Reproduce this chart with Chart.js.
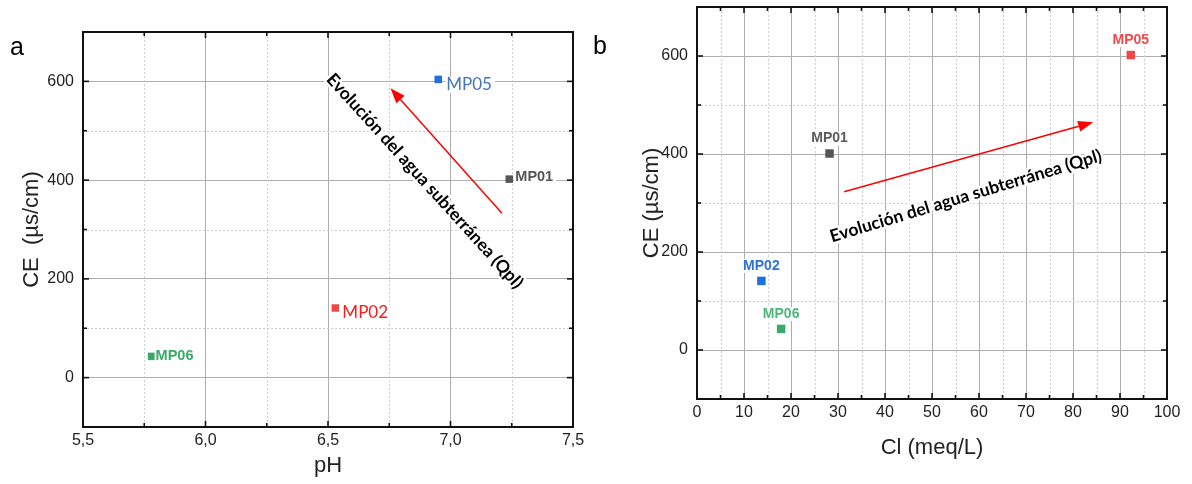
<!DOCTYPE html>
<html><head><meta charset="utf-8">
<script src="https://cdn.jsdelivr.net/npm/chart.js@4/dist/chart.umd.min.js"></script>
<style>
html,body{margin:0;padding:0;background:#fff;width:1192px;height:484px;overflow:hidden}
#ca{position:absolute;left:0;top:0}
#cb{position:absolute;left:580px;top:0}
</style></head><body>
<canvas id="ca" width="600" height="484"></canvas>
<canvas id="cb" width="612" height="484"></canvas>
<script>
// ---------- data ----------
const sampleNames = ['MP01', 'MP02', 'MP05', 'MP06'];
// Panel a: pH vs CE
const phValues  = [7.24, 6.53, 6.95, 5.78];
const ceValuesA = [402, 141, 604, 43];
// Panel b: Cl vs CE
const clValues  = [28.2, 13.7, 92.3, 17.9];
const ceValuesB = [401, 141, 602, 43];

const phTicks = [5.5, 6.0, 6.5, 7.0, 7.5];
const phTickLabels = ['5,5', '6,0', '6,5', '7,0', '7,5'];
const phMinorTicks = [5.75, 6.25, 6.75, 7.25];
const clTicks = [0, 10, 20, 30, 40, 50, 60, 70, 80, 90, 100];
const clTickLabels = ['0', '10', '20', '30', '40', '50', '60', '70', '80', '90', '100'];
const clMinorTicks = [5, 15, 25, 35, 45, 55, 65, 75, 85, 95];
const ceTicks = [0, 200, 400, 600];
const ceTickLabels = ['0', '200', '400', '600'];
const ceMinorTicks = [100, 300, 500];

const evolutionText = 'Evolución del agua subterránea (Qpl)';
// annotation anchors in data units
const arrowA = { from: [7.21, 333], to: [6.755, 586] };
const textA  = { at: [6.895, 398], angle: 47.8 };
const arrowB = { from: [31.3, 323], to: [84.3, 465] };
const textB  = { at: [57.2, 314], angle: -16.8 };

// ---------- styles ----------
const AX_FONT = 'Arial, "Liberation Sans", sans-serif';
const markerA = { MP01: '#555555', MP02: '#f04848', MP05: '#1f6fe0', MP06: '#3aaa6a' };
const labelA  = {
  MP01: { color: '#555555', font: 'bold 14.5px Arial, "Liberation Sans", sans-serif', dx: 6, dy: -2 },
  MP02: { color: '#ff1a1a', font: '17px Lato', dx: 7, dy: 5 },
  MP05: { color: '#4472c4', font: '17px Lato', dx: 8, dy: 5.5 },
  MP06: { color: '#3aaa6a', font: 'bold 14.5px Arial, "Liberation Sans", sans-serif', dx: 4, dy: 0 }
};
const markerB = { MP01: '#555555', MP02: '#1f6fe0', MP05: '#f04848', MP06: '#3aaa6a' };
const labelB  = {
  MP01: { color: '#5a5a5a' }, MP02: { color: '#2d72d9' },
  MP05: { color: '#f04a4a' }, MP06: { color: '#4cb87a' }
};

function framePlugin(xMinor, yMinor) {
  return {
    id: 'frameMinor',
    beforeDatasetsDraw(chart) {
      const { ctx, chartArea: a, scales: { x, y } } = chart;
      ctx.save();
      ctx.strokeStyle = '#cfcfcf'; ctx.lineWidth = 1; ctx.setLineDash([2, 2]);
      xMinor.forEach(v => { const p = Math.round(x.getPixelForValue(v)) + 0.5; ctx.beginPath(); ctx.moveTo(p, a.top); ctx.lineTo(p, a.bottom); ctx.stroke(); });
      yMinor.forEach(v => { const p = Math.round(y.getPixelForValue(v)) + 0.5; ctx.beginPath(); ctx.moveTo(a.left, p); ctx.lineTo(a.right, p); ctx.stroke(); });
      ctx.restore();
    },
    afterDraw(chart) {
      const { ctx, chartArea: a, scales: { x, y } } = chart;
      ctx.save();
      ctx.strokeStyle = '#111'; ctx.lineWidth = 1.6; ctx.setLineDash([]);
      const tick = (vals, len, horiz) => vals.forEach(v => {
        if (horiz) {
          const p = x.getPixelForValue(v);
          ctx.beginPath(); ctx.moveTo(p, a.bottom); ctx.lineTo(p, a.bottom - len); ctx.stroke();
          ctx.beginPath(); ctx.moveTo(p, a.top); ctx.lineTo(p, a.top + len); ctx.stroke();
        } else {
          const p = y.getPixelForValue(v);
          ctx.beginPath(); ctx.moveTo(a.left, p); ctx.lineTo(a.left + len, p); ctx.stroke();
          ctx.beginPath(); ctx.moveTo(a.right, p); ctx.lineTo(a.right - len, p); ctx.stroke();
        }
      });
      tick(x.ticks.map(t => t.value), 6, true);
      tick(xMinor, 4, true);
      tick(y.ticks.map(t => t.value), 6, false);
      tick(yMinor, 4, false);
      ctx.lineWidth = 2;
      ctx.strokeRect(a.left, a.top, a.right - a.left, a.bottom - a.top);
      ctx.restore();
    }
  };
}

function drawArrow(ctx, x1, y1, x2, y2) {
  const ang = Math.atan2(y2 - y1, x2 - x1);
  const hl = 15, hw = 11;
  const bx = x2 - hl * Math.cos(ang), by = y2 - hl * Math.sin(ang);
  ctx.save();
  ctx.strokeStyle = '#ff0000'; ctx.fillStyle = '#ff0000'; ctx.lineWidth = 1.5;
  ctx.beginPath(); ctx.moveTo(x1, y1); ctx.lineTo(bx, by); ctx.stroke();
  ctx.beginPath();
  ctx.moveTo(x2, y2);
  ctx.lineTo(bx + hw / 2 * Math.sin(ang), by - hw / 2 * Math.cos(ang));
  ctx.lineTo(bx - hw / 2 * Math.sin(ang), by + hw / 2 * Math.cos(ang));
  ctx.closePath(); ctx.fill();
  ctx.restore();
}

function annotPlugin(arrow, text, letter, letterPos, labelMode) {
  return {
    id: 'annot',
    afterDatasetsDraw(chart) {
      const { ctx, scales: { x, y } } = chart;
      // evolution text
      ctx.save();
      const cx = x.getPixelForValue(text.at[0]), cy = y.getPixelForValue(text.at[1]);
      ctx.translate(cx, cy); ctx.rotate(text.angle * Math.PI / 180);
      ctx.font = 'bold 15px Lato';
      const w = ctx.measureText(evolutionText).width;
      const size = 15 * 283 / w;
      ctx.font = 'bold ' + size.toFixed(2) + 'px Lato';
      ctx.textAlign = 'center'; ctx.textBaseline = 'middle';
      ctx.strokeStyle = '#fff'; ctx.lineWidth = 5; ctx.lineJoin = 'round';
      ctx.strokeText(evolutionText, 0, 0);
      ctx.fillStyle = '#000';
      ctx.fillText(evolutionText, 0, 0);
      ctx.restore();
      // arrow
      drawArrow(ctx, x.getPixelForValue(arrow.from[0]), y.getPixelForValue(arrow.from[1]),
                     x.getPixelForValue(arrow.to[0]), y.getPixelForValue(arrow.to[1]));
      // point labels
      chart.data.datasets.forEach((ds, i) => {
        const el = chart.getDatasetMeta(i).data[0];
        const name = ds.label;
        ctx.save();
        if (labelMode === 'right') {
          const st = labelA[name];
          ctx.font = st.font; ctx.textAlign = 'left'; ctx.textBaseline = 'middle';
          const tw = ctx.measureText(name).width;
          const lx = el.x + st.dx, ly = el.y + st.dy;
          ctx.fillStyle = '#fff'; ctx.fillRect(lx - 1, ly - 8, tw + 4, 16);
          ctx.fillStyle = st.color; ctx.fillText(name, lx, ly);
        } else {
          const st = labelB[name];
          ctx.font = 'bold 14px Arial, "Liberation Sans", sans-serif'; ctx.textAlign = 'center'; ctx.textBaseline = 'middle';
          const tw = ctx.measureText(name).width;
          const lx = el.x, ly = el.y - 15;
          ctx.fillStyle = '#fff'; ctx.fillRect(lx - tw / 2 - 2, ly - 7, tw + 4, 14);
          ctx.fillStyle = st.color; ctx.fillText(name, lx, ly);
        }
        ctx.restore();
      });
      // panel letter
      ctx.save();
      ctx.font = '25px Arial, "Liberation Sans", sans-serif'; ctx.fillStyle = '#000';
      ctx.textAlign = 'left'; ctx.textBaseline = 'alphabetic';
      ctx.fillText(letter, letterPos[0], letterPos[1]);
      ctx.restore();
    }
  };
}

function setTicks(vals) { return s => { s.ticks = vals.map(v => ({ value: v })); }; }
function tickFmt(vals, labels) { return v => { const i = vals.findIndex(t => Math.abs(t - v) < 1e-9); return i >= 0 ? labels[i] : ''; }; }

function makeChart(id, opt) {
  return new Chart(document.getElementById(id), {
    type: 'scatter',
    data: {
      datasets: sampleNames.map((n, i) => ({
        label: n,
        data: [{ x: opt.xs[i], y: opt.ys[i] }],
        pointStyle: 'rect', pointRadius: opt.radius,
        backgroundColor: opt.colors[n], borderColor: opt.colors[n], borderWidth: 0
      }))
    },
    options: {
      responsive: false, animation: false, events: [],
      layout: { padding: opt.padding },
      plugins: { legend: { display: false }, tooltip: { enabled: false } },
      scales: {
        x: {
          type: 'linear', min: opt.xmin, max: opt.xmax,
          afterBuildTicks: setTicks(opt.xTicks),
          afterFit: s => { s.height = opt.xHeight; s.paddingLeft = 0; s.paddingRight = 0; },
          grid: { color: '#adadad', lineWidth: 1, drawTicks: false },
          border: { display: false },
          ticks: { padding: 4, color: '#222', font: { family: AX_FONT, size: 16 }, maxRotation: 0, autoSkip: false,
                   callback: tickFmt(opt.xTicks, opt.xLabels) },
          title: { display: true, text: opt.xTitle, color: '#222', font: { family: AX_FONT, size: 22 },
                   padding: { top: 0, bottom: opt.xTitlePad } }
        },
        y: {
          type: 'linear', min: -100, max: 700,
          afterBuildTicks: setTicks(ceTicks),
          afterFit: s => { s.width = opt.yWidth; s.paddingTop = 0; s.paddingBottom = 0; },
          grid: { color: '#adadad', lineWidth: 1, drawTicks: false },
          border: { display: false },
          ticks: { padding: 9, color: '#222', font: { family: AX_FONT, size: 16 },
                   callback: tickFmt(ceTicks, ceTickLabels) },
          title: { display: true, text: opt.yTitle, color: '#222', font: { family: AX_FONT, size: 22 },
                   padding: { top: opt.yTitlePad, bottom: 0 } }
        }
      }
    },
    plugins: [framePlugin(opt.xMinor, ceMinorTicks), annotPlugin(opt.arrow, opt.text, opt.letter, opt.letterPos, opt.labelMode)]
  });
}

makeChart('ca', {
  xs: phValues, ys: ceValuesA, colors: markerA, radius: 5.3,
  padding: { top: 32, right: 27, left: 0, bottom: 0 },
  xmin: 5.5, xmax: 7.5, xTicks: phTicks, xLabels: phTickLabels, xMinor: phMinorTicks,
  xHeight: 57, yWidth: 83, xTitle: 'pH', xTitlePad: 4.5, yTitle: 'CE  (µs/cm)', yTitlePad: 19,
  arrow: arrowA, text: textA, letter: 'a', letterPos: [10, 55], labelMode: 'right'
});
makeChart('cb', {
  xs: clValues, ys: ceValuesB, colors: markerB, radius: 6,
  padding: { top: 7, right: 25, left: 0, bottom: 0 },
  xmin: 0, xmax: 100, xTicks: clTicks, xLabels: clTickLabels, xMinor: clMinorTicks,
  xHeight: 85, yWidth: 117, xTitle: 'Cl (meq/L)', xTitlePad: 22.5, yTitle: 'CE (µs/cm)', yTitlePad: 59,
  arrow: arrowB, text: textB, letter: 'b', letterPos: [13, 54], labelMode: 'above'
});
</script></body></html>
